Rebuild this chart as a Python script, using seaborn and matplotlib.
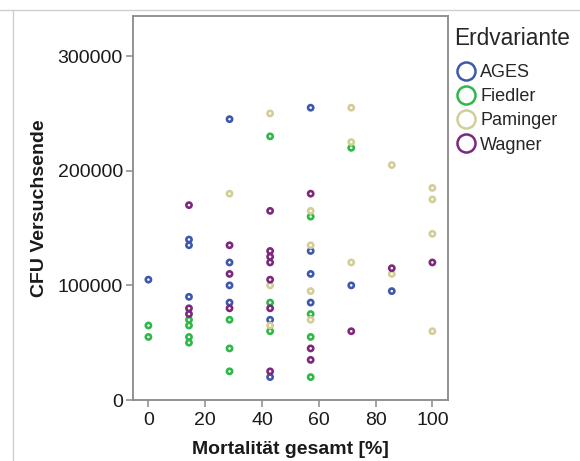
import matplotlib
matplotlib.use("Agg")
import matplotlib.pyplot as plt
from matplotlib.lines import Line2D
import seaborn as sns
import pandas as pd

# ---- data ----
ages_x = [0, 14.29, 14.29, 14.29, 28.57, 28.57, 28.57, 28.57, 42.86, 42.86,
          57.14, 57.14, 57.14, 57.14, 71.43, 85.71]
ages_y = [105000, 140000, 135000, 90000, 245000, 120000, 100000, 85000, 70000, 20000,
          255000, 130000, 110000, 85000, 100000, 95000]

fiedler_x = [0, 0, 14.29, 14.29, 14.29, 14.29, 28.57, 28.57, 28.57, 42.86, 42.86, 42.86,
             57.14, 57.14, 57.14, 57.14, 71.43]
fiedler_y = [65000, 55000, 70000, 65000, 55000, 50000, 70000, 45000, 25000, 230000, 85000, 60000,
             160000, 75000, 55000, 20000, 220000]

paminger_x = [28.57, 42.86, 42.86, 42.86, 57.14, 57.14, 57.14, 57.14, 71.43, 71.43, 71.43,
              85.71, 85.71, 100, 100, 100, 100]
paminger_y = [180000, 250000, 100000, 65000, 165000, 135000, 95000, 70000, 255000, 225000, 120000,
              205000, 110000, 185000, 175000, 145000, 60000]

wagner_x = [14.29, 14.29, 14.29, 28.57, 28.57, 28.57, 42.86, 42.86, 42.86, 42.86, 42.86, 42.86, 42.86,
            57.14, 57.14, 57.14, 71.43, 85.71, 100]
wagner_y = [170000, 80000, 75000, 135000, 110000, 80000, 165000, 130000, 125000, 120000, 105000, 80000, 25000,
            180000, 45000, 35000, 60000, 115000, 120000]

categories = ["AGES", "Fiedler", "Paminger", "Wagner"]
colors = ["#3E58AC", "#2EB848", "#D3CE97", "#7C287D"]
x_ticks = [0, 20, 40, 60, 80, 100]
y_ticks = [0, 100000, 200000, 300000]

df = pd.concat([
    pd.DataFrame({"Mortalität": ages_x, "CFU": ages_y, "Erdvariante": "AGES"}),
    pd.DataFrame({"Mortalität": fiedler_x, "CFU": fiedler_y, "Erdvariante": "Fiedler"}),
    pd.DataFrame({"Mortalität": paminger_x, "CFU": paminger_y, "Erdvariante": "Paminger"}),
    pd.DataFrame({"Mortalität": wagner_x, "CFU": wagner_y, "Erdvariante": "Wagner"}),
], ignore_index=True)

sns.set_style("white")
plt.rcParams["font.family"] = ["Liberation Sans", "DejaVu Sans"]

fig = plt.figure(figsize=(5.8, 4.61), dpi=100)
ax = fig.add_axes([132.5 / 580, 1 - 400 / 461, (448 - 132.5) / 580, (400 - 16) / 461])

palette = dict(zip(categories, colors))
sns.scatterplot(data=df, x="Mortalität", y="CFU", hue="Erdvariante", palette=palette,
                hue_order=categories, s=14, linewidth=1.9, legend=False, ax=ax)
coll = ax.collections[0]
fc = coll.get_facecolors()
coll.set_edgecolors(fc)
coll.set_facecolors("none")

ax.set_xlim(-5.6, 105.5)
ax.set_ylim(0, 335000)
ax.set_xticks(x_ticks)
ax.set_yticks(y_ticks)
ax.set_xticklabels([str(v) for v in x_ticks])
ax.set_yticklabels([str(v) for v in y_ticks])

frame_col = "#8a8a8a"
for sp in ax.spines.values():
    sp.set_visible(True)
    sp.set_color(frame_col)
    sp.set_linewidth(1.3)
ax.tick_params(axis="both", which="major", direction="out", length=5, width=1.1,
               color=frame_col, labelsize=14, labelcolor="#1a1a1a", pad=2,
               left=True, bottom=True, top=False, right=False)
ax.tick_params(axis="x", pad=3.5)

ax.set_xlabel("Mortalität gesamt [%]", fontsize=14, fontweight="bold", color="#1a1a1a", labelpad=9)
ax.set_ylabel("CFU Versuchsende", fontsize=14, fontweight="bold", color="#1a1a1a", labelpad=7)

handles = [Line2D([0], [0], linestyle="none", marker="o", markersize=13, markerfacecolor="none",
                  markeredgecolor=c, markeredgewidth=1.8) for c in colors]
leg = fig.legend(handles, categories, title="Erdvariante", loc="upper left",
                 bbox_to_anchor=(454 / 580, 1 - 27 / 461), frameon=False,
                 fontsize=13, title_fontsize=16.3, handlelength=1.35, handletextpad=0.1,
                 labelspacing=0.4, borderpad=0, borderaxespad=0)
leg._legend_box.align = "left"
leg._legend_box.sep = 10

# viewer frame lines
fig.add_artist(Line2D([0, 1], [1 - 10 / 461, 1 - 10 / 461], transform=fig.transFigure,
                      color="#cfcfcf", linewidth=1))
fig.add_artist(Line2D([13 / 580, 13 / 580], [0, 1 - 10 / 461], transform=fig.transFigure,
                      color="#cfcfcf", linewidth=1))

fig.savefig("out.png", dpi=100)
